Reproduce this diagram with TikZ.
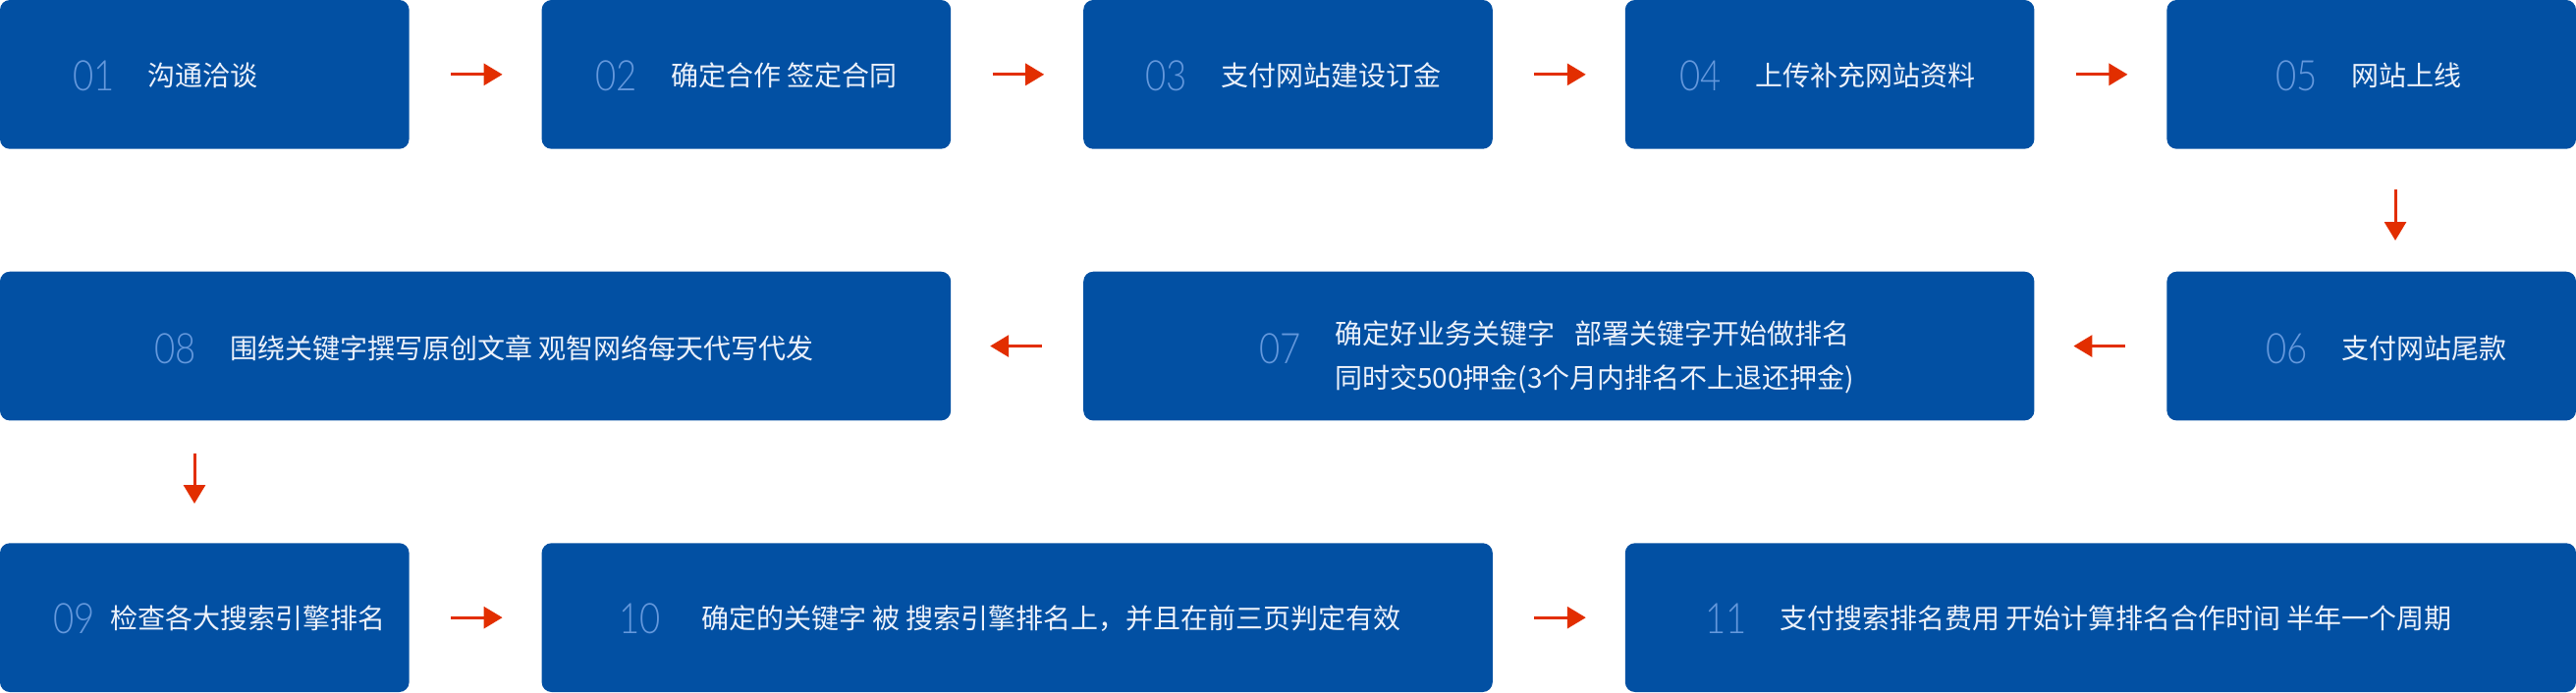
\documentclass[tikz,border=0pt]{standalone}
\usepackage{fontspec}
\newfontfamily\cjk{Noto Sans CJK SC}
\newfontfamily\numfont[FakeStretch=0.85]{Lato Light}
\usetikzlibrary{arrows.meta}
\definecolor{boxblue}{RGB}{2,80,163}
\definecolor{numblue}{RGB}{100,152,220}
\definecolor{txtwhite}{RGB}{236,241,250}
\definecolor{arrred}{RGB}{226,46,0}
\begin{document}
\begin{tikzpicture}[x=1pt,y=-1pt,
 box/.style={fill=boxblue, draw=none, rounded corners=10pt, anchor=north west, minimum height=151.7pt, inner sep=0pt, outer sep=0pt},
 small/.style={box, minimum width=416.6pt},
 wide/.style={box, minimum width=968.2pt},
 num/.style={anchor=west, inner sep=0pt, text=numblue, font=\numfont\fontsize{43}{43}\selectfont},
 lbl/.style={anchor=west, inner sep=0pt, text=txtwhite, align=left, font=\cjk\fontsize{28}{45}\selectfont},
 arr/.style={draw=arrred, line width=3pt, -{Triangle[length=19pt,width=22pt]}},
]
\useasboundingbox (0,0) rectangle (2623,705);
% row 1
\node[small] (b1) at (0,0) {};
\node[small] (b2) at (551.6,0) {};
\node[small] (b3) at (1103.2,0) {};
\node[small] (b4) at (1654.8,0) {};
\node[small] (b5) at (2206.4,0) {};
% row 2
\node[wide] (b8) at (0,276.7) {};
\node[wide] (b7) at (1103.2,276.7) {};
\node[small] (b6) at (2206.4,276.7) {};
% row 3
\node[small] (b9) at (0,553.3) {};
\node[wide] (b10) at (551.6,553.3) {};
\node[wide] (b11) at (1654.8,553.3) {};
% labels
\node[num] (n1) at (74,77) {01};
\node[lbl] (t1) at (150,77) {沟通洽谈};
\node[num] (n2) at (606,77) {02};
\node[lbl] (t2) at (683,77) {确定合作 签定合同};
\node[num] (n3) at (1166,77) {03};
\node[lbl] (t3) at (1243,77) {支付网站建设订金};
\node[num] (n4) at (1710,77) {04};
\node[lbl] (t4) at (1787,77) {上传补充网站资料};
\node[num] (n5) at (2317,77) {05};
\node[lbl] (t5) at (2394,77) {网站上线};
\node[num] (n6) at (2307,355) {06};
\node[lbl] (t6) at (2384,355) {支付网站尾款};
\node[num] (n7) at (1282,355) {07};
\node[lbl] (t7) at (1359,364) {确定好业务关键字\hspace{20pt}部署关键字开始做排名\\同时交500押金(3个月内排名不上退还押金)};
\node[num] (n8) at (157,355) {08};
\node[lbl] (t8) at (234,355) {围绕关键字撰写原创文章 观智网络每天代写代发};
\node[num] (n9) at (54,630) {09};
\node[lbl] (t9) at (112,630) {检查各大搜索引擎排名};
\node[num] (n10) at (630,630) {10};
\node[lbl] (t10) at (714,630) {确定的关键字 被 搜索引擎排名上，并且在前三页判定有效};
\node[num] (n11) at (1736,630) {11};
\node[lbl] (t11) at (1812,630) {支付搜索排名费用 开始计算排名合作时间 半年一个周期};
% connectors
\draw[arr, shorten <=42.5pt, shorten >=40pt] (b1.east) -- (b2.west);
\draw[arr, shorten <=42.5pt, shorten >=40pt] (b2.east) -- (b3.west);
\draw[arr, shorten <=42.5pt, shorten >=40pt] (b3.east) -- (b4.west);
\draw[arr, shorten <=42.5pt, shorten >=40pt] (b4.east) -- (b5.west);
\draw[arr, shorten <=41.3pt, shorten >=31.7pt] ([xshift=24.3pt]b5.south) -- ([xshift=24.3pt]b6.north);
\draw[arr, shorten <=42.5pt, shorten >=40pt] (b6.west) -- (b7.east);
\draw[arr, shorten <=42.5pt, shorten >=40pt] (b7.west) -- (b8.east);
\coordinate (c9top) at ([xshift=-10.3pt]b9.north);
\coordinate (c8bot) at (c9top |- b8.south);
\draw[arr, shorten <=33.6pt, shorten >=40.3pt] (c8bot) -- (c9top);
\draw[arr, shorten <=42.5pt, shorten >=40pt] (b9.east) -- (b10.west);
\draw[arr, shorten <=42.5pt, shorten >=40pt] (b10.east) -- (b11.west);
\end{tikzpicture}
\end{document}
